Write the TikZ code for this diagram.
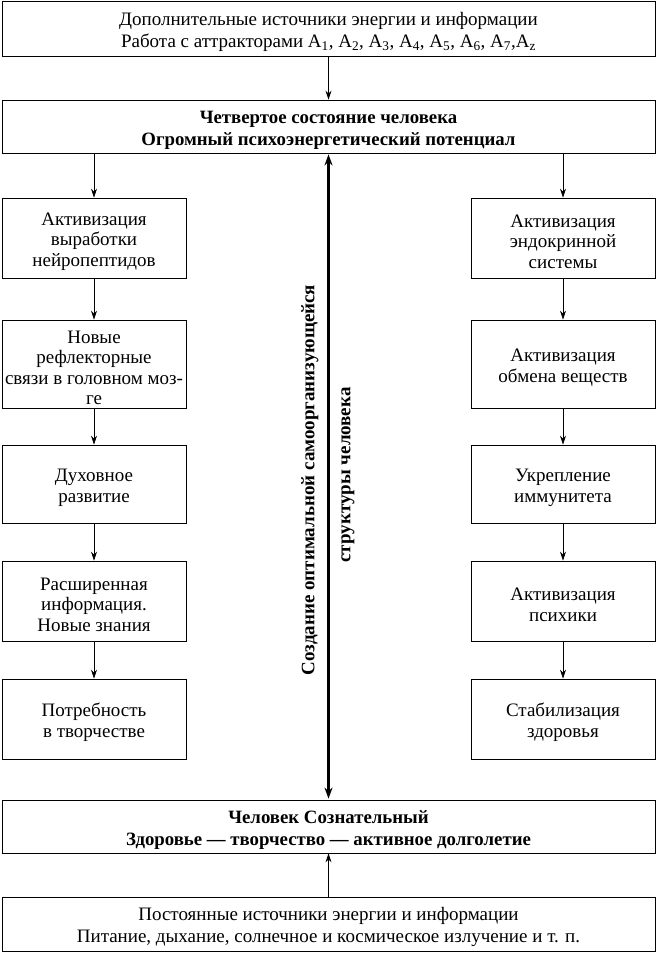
\documentclass[tikz,border=0pt]{standalone}
\usepackage{fontspec}
\setmainfont{Liberation Serif}
\usetikzlibrary{arrows.meta}
\newcommand\topstr{\rule{0pt}{20pt}}
\begin{document}
\begin{tikzpicture}[x=1pt,y=-1pt,
  box/.style={draw=black,line width=0.8pt,inner sep=0pt,align=center,font=\fontsize{19}{20.5}\selectfont},
  wbox/.style={box,minimum width=653pt,font=\fontsize{19}{22}\selectfont},
  bbox/.style={box,minimum width=653pt,font=\bfseries\fontsize{18.8}{22}\selectfont},
  sbox/.style={box,minimum width=184pt},
  arr/.style={draw=black,line width=0.7pt,-{Stealth[length=9pt,width=6pt]}},
  darr/.style={draw=black,line width=2.2pt,{Stealth[length=11pt,width=8pt]}-{Stealth[length=11pt,width=8pt]}},
  vlab/.style={rotate=90,font=\bfseries\fontsize{19}{22}\selectfont}]
\useasboundingbox (0,0) rectangle (657,953);
\fill[white] (0,0) rectangle (657,953);
% wide boxes
\node[wbox,minimum height=55pt] (top) at (328.5,28.5)
  {\topstr Дополнительные источники энергии и информации\\Работа с аттракторами A\textsubscript{1}, A\textsubscript{2}, A\textsubscript{3}, A\textsubscript{4}, A\textsubscript{5}, A\textsubscript{6}, A\textsubscript{7},A\textsubscript{z}};
\node[bbox,minimum height=53pt] (fourth) at (328.5,126.5)
  {\topstr Четвертое состояние человека\\Огромный психоэнергетический потенциал};
\node[bbox,minimum height=53pt] (homo) at (328.5,826.5)
  {\topstr Человек Сознательный\\Здоровье — творчество — активное долголетие};
\node[wbox,minimum height=54pt] (const) at (328.5,924)
  {\topstr Постоянные источники энергии и информации\\Питание, дыхание, солнечное и космическое излучение и т. п.};
% left column
\node[sbox,minimum height=80pt] (l1) at (94,238) {\topstr Активизация\\выработки\\нейропептидов};
\node[sbox,minimum height=88pt] (l2) at (94,364) {\topstr Новые\\рефлекторные\\связи в головном моз-\\ге};
\node[sbox,minimum height=78pt] (l3) at (94,484) {\topstr Духовное\\развитие};
\node[sbox,minimum height=80pt] (l4) at (94,601) {\topstr Расширенная\\информация.\\Новые знания};
\node[sbox,minimum height=80pt] (l5) at (94,719) {\topstr Потребность\\в творчестве};
% right column
\node[sbox,minimum height=80pt] (r1) at (563,238) {\topstr Активизация\\эндокринной\\системы};
\node[sbox,minimum height=88pt] (r2) at (563,364) {\topstr Активизация\\обмена веществ};
\node[sbox,minimum height=78pt] (r3) at (563,484) {\topstr Укрепление\\иммунитета};
\node[sbox,minimum height=80pt] (r4) at (563,601) {\topstr Активизация\\психики};
\node[sbox,minimum height=80pt] (r5) at (563,719) {\topstr Стабилизация\\здоровья};
% arrows
\draw[arr] (top.south) -- (fourth.north);
\draw[arr] (fourth.south -| l1.north) -- (l1.north);
\draw[arr] (fourth.south -| r1.north) -- (r1.north);
\draw[arr] (l1) -- (l2);
\draw[arr] (l2) -- (l3);
\draw[arr] (l3) -- (l4);
\draw[arr] (l4) -- (l5);
\draw[arr] (r1) -- (r2);
\draw[arr] (r2) -- (r3);
\draw[arr] (r3) -- (r4);
\draw[arr] (r4) -- (r5);
\draw[arr] (const.north) -- (homo.south);
\draw[darr] ([yshift=-1pt]fourth.south) -- ([yshift=1pt]homo.north);
% vertical label
\node[vlab] (lab1) at (310,480) {Создание оптимальной самоорганизующейся};
\node[vlab] (lab2) at (348,475) {структуры человека};
\end{tikzpicture}
\end{document}
